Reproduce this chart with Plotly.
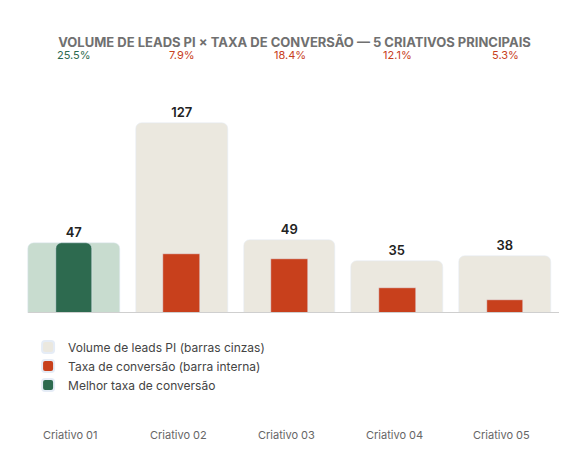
import plotly.graph_objects as go

criativos = ["Criativo 01", "Criativo 02", "Criativo 03", "Criativo 04", "Criativo 05"]
volume = [47, 127, 49, 35, 38]
taxa_label = ["25.5%", "7.9%", "18.4%", "12.1%", "5.3%"]
inner_bar = [47, 39.5, 36, 17, 8.5]
best = 0

RED = "#c8401c"
GREEN = "#2d6a4f"
x = list(range(len(criativos)))

outer_colors = ["#c8dccf" if i == best else "#ebe8df" for i in x]
inner_colors = [GREEN if i == best else RED for i in x]

fig = go.Figure()
fig.add_trace(go.Bar(x=x, y=volume, width=0.85, marker_color=outer_colors,
                     text=volume, textposition="outside",
                     textfont=dict(size=13, color="#222", family="Inter", weight=600),
                     showlegend=False, cliponaxis=False))
fig.add_trace(go.Bar(x=x, y=inner_bar, width=0.34, marker_color=inner_colors,
                     showlegend=False))
# legend swatches
for name, c in [("Volume de leads PI (barras cinzas)", "#ebe8df"),
                ("Taxa de conversão (barra interna)", RED),
                ("Melhor taxa de conversão", GREEN)]:
    fig.add_trace(go.Bar(x=[None], y=[None], name=name, marker_color=c))

for i in x:
    fig.add_annotation(x=i, y=1.1, xref="x", yref="paper", text=taxa_label[i],
                       showarrow=False, font=dict(size=11, color=inner_colors[i]))
    fig.add_annotation(x=i - 0.03, y=-0.54, xref="x", yref="paper", text=criativos[i],
                       showarrow=False, font=dict(size=11, color="#666"))

fig.update_layout(
    width=573, height=455,
    margin=dict(l=12, r=22, t=62, b=150),
    paper_bgcolor="white", plot_bgcolor="white",
    barmode="overlay", barcornerradius=6, bargap=0,
    font=dict(family="Inter, sans-serif"),
    title=dict(text="<b>VOLUME DE LEADS PI × TAXA DE CONVERSÃO — 5 CRIATIVOS PRINCIPAIS</b>",
               x=0.5, y=0.935, xanchor="center",
               font=dict(size=13, color="#707070")),
    xaxis=dict(range=[-0.5, 4.5], showticklabels=False, showgrid=False, zeroline=False),
    yaxis=dict(range=[0, 162], visible=False, showgrid=False),
    legend=dict(x=0.015, y=-0.08, xanchor="left", yanchor="top", orientation="v",
                font=dict(size=12, color="#444"), itemsizing="constant", tracegroupgap=10),
    shapes=[dict(type="line", xref="paper", yref="y", x0=0.015, x1=1, y0=0, y1=0,
                 line=dict(color="#cfcfcf", width=2))],
)

fig.write_html("out.html")
